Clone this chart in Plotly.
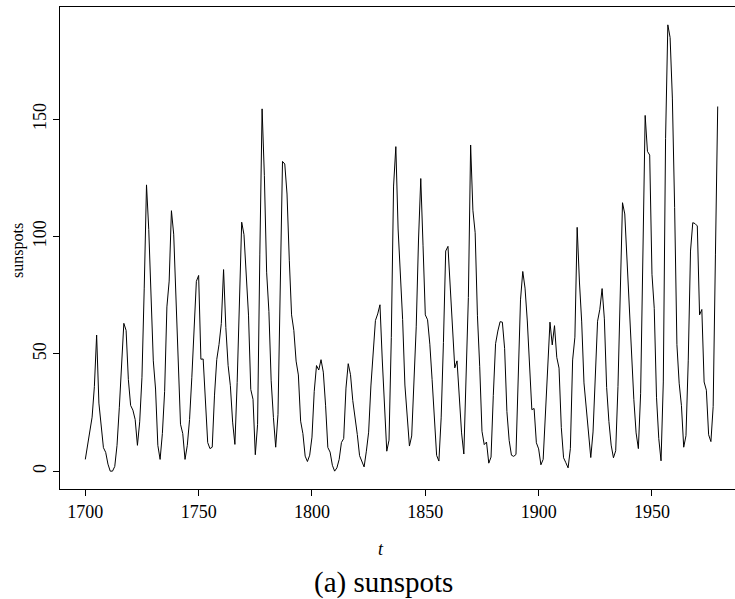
import plotly.graph_objects as go

years = list(range(1700, 1980))
sunspots = [
    5, 11, 16, 23, 36, 58, 29, 20, 10, 8,
    3, 0, 0, 2, 11, 27, 47, 63, 60, 39,
    28, 26, 22, 11, 21, 40, 78, 122, 103, 73,
    47, 35, 11, 5, 16, 34, 70, 81, 111, 101,
    73, 40, 20, 16, 5, 11, 22, 40, 60, 80.9,
    83.4, 47.7, 47.8, 30.7, 12.2, 9.6, 10.2, 32.4, 47.6, 54.0,
    62.9, 85.9, 61.2, 45.1, 36.4, 20.9, 11.4, 37.8, 69.8, 106.1,
    100.8, 81.6, 66.5, 34.8, 30.6, 7.0, 19.8, 92.5, 154.4, 125.9,
    84.8, 68.1, 38.5, 22.8, 10.2, 24.1, 82.9, 132.0, 130.9, 118.1,
    89.9, 66.6, 60.0, 46.9, 41.0, 21.3, 16.0, 6.4, 4.1, 6.8,
    14.5, 34.0, 45.0, 43.1, 47.5, 42.2, 28.1, 10.1, 8.1, 2.5,
    0.0, 1.4, 5.0, 12.2, 13.9, 35.4, 45.8, 41.1, 30.1, 23.9,
    15.6, 6.6, 4.0, 1.8, 8.5, 16.6, 36.3, 49.6, 64.2, 67.0,
    70.9, 47.8, 27.5, 8.5, 13.2, 56.9, 121.5, 138.3, 103.2, 85.7,
    64.6, 36.7, 24.2, 10.7, 15.0, 40.1, 61.5, 98.5, 124.7, 96.3,
    66.6, 64.5, 54.1, 39.0, 20.6, 6.7, 4.3, 22.7, 54.8, 93.8,
    95.8, 77.2, 59.1, 44.0, 47.0, 30.5, 16.3, 7.3, 37.6, 74.0,
    139.0, 111.2, 101.6, 66.2, 44.7, 17.0, 11.3, 12.4, 3.4, 6.0,
    32.3, 54.3, 59.7, 63.7, 63.5, 52.2, 25.4, 13.1, 6.8, 6.3,
    7.1, 35.6, 73.0, 85.1, 78.0, 64.0, 41.8, 26.2, 26.7, 12.1,
    9.5, 2.7, 5.0, 24.4, 42.0, 63.5, 53.8, 62.0, 48.5, 43.9,
    18.6, 5.7, 3.6, 1.4, 9.6, 47.4, 57.1, 103.9, 80.6, 63.6,
    37.6, 26.1, 14.2, 5.8, 16.7, 44.3, 63.9, 69.0, 77.8, 64.9,
    35.7, 21.2, 11.1, 5.7, 8.7, 36.1, 79.7, 114.4, 109.6, 88.8,
    67.8, 47.5, 30.6, 16.3, 9.6, 33.2, 92.6, 151.6, 136.3, 134.7,
    83.9, 69.4, 31.5, 13.9, 4.4, 38.0, 141.7, 190.2, 184.8, 159.0,
    112.3, 53.9, 37.5, 27.9, 10.2, 15.1, 47.0, 93.8, 105.9, 105.5,
    104.5, 66.6, 68.9, 38.0, 34.5, 15.5, 12.6, 27.5, 92.5, 155.4,
]
x_ticks = [1700, 1750, 1800, 1850, 1900, 1950]
y_ticks = [0, 50, 100, 150]

W, H = 735, 599
L, R, T, B = 60, 0, 7, 110
pw = W - L - R
ph = H - T - B

ymin, ymax = -7.608, 197.808
xmin = 1688.84
xmax = xmin + pw / 2.2667

font = "Liberation Serif"

fig = go.Figure()
fig.add_trace(go.Scatter(x=years, y=sunspots, mode="lines",
                         line=dict(color="black", width=1), hoverinfo="skip"))

fig.update_layout(
    width=W, height=H,
    margin=dict(l=L, r=R, t=T, b=B, pad=0),
    paper_bgcolor="white", plot_bgcolor="white",
    showlegend=False,
    font=dict(family=font, size=18, color="black"),
    xaxis=dict(range=[xmin, xmax], tickvals=x_ticks, ticks="outside", ticklen=6,
               tickwidth=1, tickcolor="black", showline=True, linecolor="black",
               linewidth=1, mirror=True, showgrid=False, zeroline=False,
               tickfont=dict(family=font, size=18)),
    yaxis=dict(range=[ymin, ymax], tickvals=y_ticks, ticks="outside", ticklen=6,
               tickwidth=1, tickcolor="black", showline=True, linecolor="black",
               linewidth=1, mirror=False, showgrid=False, zeroline=False,
               tickangle=-90, tickfont=dict(family=font, size=18)),
    annotations=[
        dict(text="sunspots", xref="paper", yref="paper",
             x=(18 - L) / pw, y=1 - (251 - T) / ph,
             xanchor="center", yanchor="middle", textangle=-90, showarrow=False,
             font=dict(family=font, size=16)),
        dict(text="<i>t</i>", xref="paper", yref="paper",
             x=(381 - L) / pw, y=1 - (549 - T) / ph,
             xanchor="center", yanchor="middle", showarrow=False,
             font=dict(family=font, size=18)),
        dict(text="(a) sunspots", xref="paper", yref="paper",
             x=(383 - L) / pw, y=1 - (582 - T) / ph,
             xanchor="center", yanchor="middle", showarrow=False,
             font=dict(family=font, size=29)),
    ],
)

fig.write_html("out.html", config={"displayModeBar": False},
               post_script="document.body.style.margin='0';document.body.style.overflow='hidden';")
